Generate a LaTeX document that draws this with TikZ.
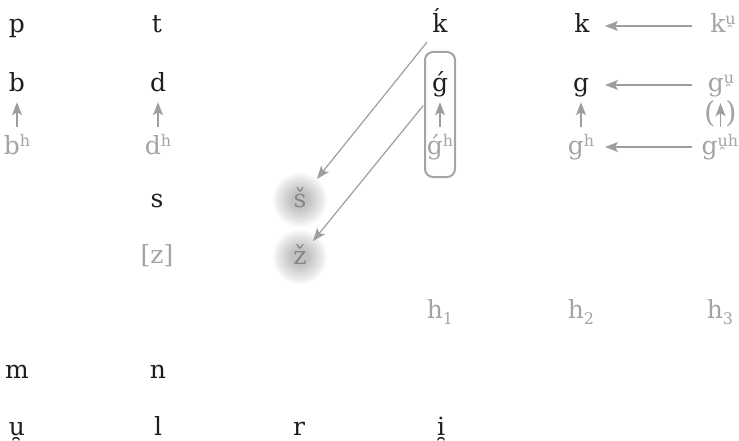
\documentclass[tikz,border=0pt]{standalone}
\usepackage{fontspec}
\setmainfont{DejaVu Serif}
\usetikzlibrary{arrows.meta,calc}
\definecolor{ink}{HTML}{1E1E1E}
\definecolor{pale}{HTML}{A4A4A4}
\definecolor{arrowgray}{HTML}{9E9E9E}
\definecolor{midgray}{HTML}{858585}
\newcommand{\mysup}[1]{\raisebox{8pt}{\fontsize{16}{16}\selectfont #1}}
\newcommand{\mysub}[1]{\raisebox{-6pt}{\fontsize{16}{16}\selectfont #1}}
\tikzset{
  lbl/.style={text=ink, inner sep=0pt, text height=20pt, text depth=6pt, font=\fontsize{25}{30}\selectfont},
  faint/.style={lbl, text=pale},
  blobnode/.style={lbl, text=midgray, circle, minimum size=50pt},
  haze/.style={fill=black, fill opacity=0.028},
  arr/.style={draw=arrowgray, line width=1.2pt, -{Stealth[length=13pt,width=10pt,inset=3pt]}},
  frame/.style={draw=pale, line width=2pt, rounded corners=8pt, minimum width=30pt, minimum height=125pt, inner sep=0pt},
}
\begin{document}
\begin{tikzpicture}[x=1pt,y=-1pt]
\useasboundingbox (0,0) rectangle (739,441);
% soft shaded discs
\foreach \rad in {27,25,...,9} {
  \fill[haze] (300,200) circle[radius=\rad pt];
  \fill[haze] (300,257) circle[radius=\rad pt];
}
\node[blobnode] (sh) at (300,200) {š};
\node[blobnode] (zh) at (300,257) {ž};
% row 1
\node[lbl, anchor=base] (p) at (17,33) {p};
\node[lbl, anchor=base] (t) at (157,33) {t};
\node[lbl, anchor=base] (kac) at (440,33) {ḱ};
\node[lbl, anchor=base] (k) at (582,33) {k};
\node[faint, anchor=base] (kw) at (723,33) {k\mysup{u̯}};
% row 2
\node[lbl, anchor=base] (b) at (17,92) {b};
\node[lbl, anchor=base] (d) at (158,92) {d};
\node[lbl, anchor=base] (gac) at (440,92) {ǵ};
\node[lbl, anchor=base] (g) at (581,92) {g};
\node[faint, anchor=base] (gw) at (721,92) {g\mysup{u̯}};
% row 3
\node[faint, anchor=base] (bh) at (17,154) {b\mysup{h}};
\node[faint, anchor=base] (dh) at (158,154) {d\mysup{h}};
\node[faint, anchor=base] (gach) at (440,154) {ǵ\mysup{h}};
\node[faint, anchor=base] (gh) at (581,154) {g\mysup{h}};
\node[faint, anchor=base] (gwh) at (720,154) {g\mysup{u̯h}};
% frame
\node[frame] (box) at (440,114.5) {};
% s, z
\node[lbl, anchor=base] (s) at (157,207) {s};
\node[faint, anchor=base] (z) at (157,263) {[z]};
% laryngeals
\node[faint, anchor=base] (h1) at (440,318) {h\mysub{1}};
\node[faint, anchor=base] (h2) at (581,318) {h\mysub{2}};
\node[faint, anchor=base] (h3) at (720,318) {h\mysub{3}};
% nasals
\node[lbl, anchor=base] (m) at (17,378) {m};
\node[lbl, anchor=base] (n) at (158,378) {n};
% resonants
\node[lbl, anchor=base] (u) at (17,435) {u̯};
\node[lbl, anchor=base] (l) at (158,435) {l};
\node[lbl, anchor=base] (r) at (299,435) {r};
\node[lbl, anchor=base] (i) at (441,435) {i̯};
% parentheses around arrow
\node[faint, font=\fontsize{29}{30}\selectfont] (par) at ($(gw.south)!0.5!(gwh.north)$) {(\hspace{10pt})};
% horizontal arrows
\draw[arr, shorten <=31pt, shorten >=23pt] (kw.center) -- (k.center);
\draw[arr, shorten <=29pt, shorten >=24pt] (gw.center) -- (g.center);
\draw[arr, shorten <=28pt, shorten >=24pt] (gwh.center) -- (gh.center);
% vertical arrows
\draw[arr, shorten <=7pt, shorten >=4pt] (bh.north -| b) -- (b.south);
\draw[arr, shorten <=7pt, shorten >=4pt] (dh.north -| d) -- (d.south);
\draw[arr, shorten <=7pt, shorten >=4pt] (gach.north -| gac) -- (gac.south);
\draw[arr, shorten <=7pt, shorten >=4pt] (gh.north -| g) -- (g.south);
\draw[arr, shorten <=7pt, shorten >=5pt] (gwh.north -| par) -- (gw.south -| par);
% diagonal arrows
\draw[arr, shorten <=21pt, shorten >=27pt] (kac.center) -- (sh.center);
\draw[arr, shorten <=26.6pt, shorten >=20.5pt] (gac.center) -- (zh.center);
\end{tikzpicture}
\end{document}
